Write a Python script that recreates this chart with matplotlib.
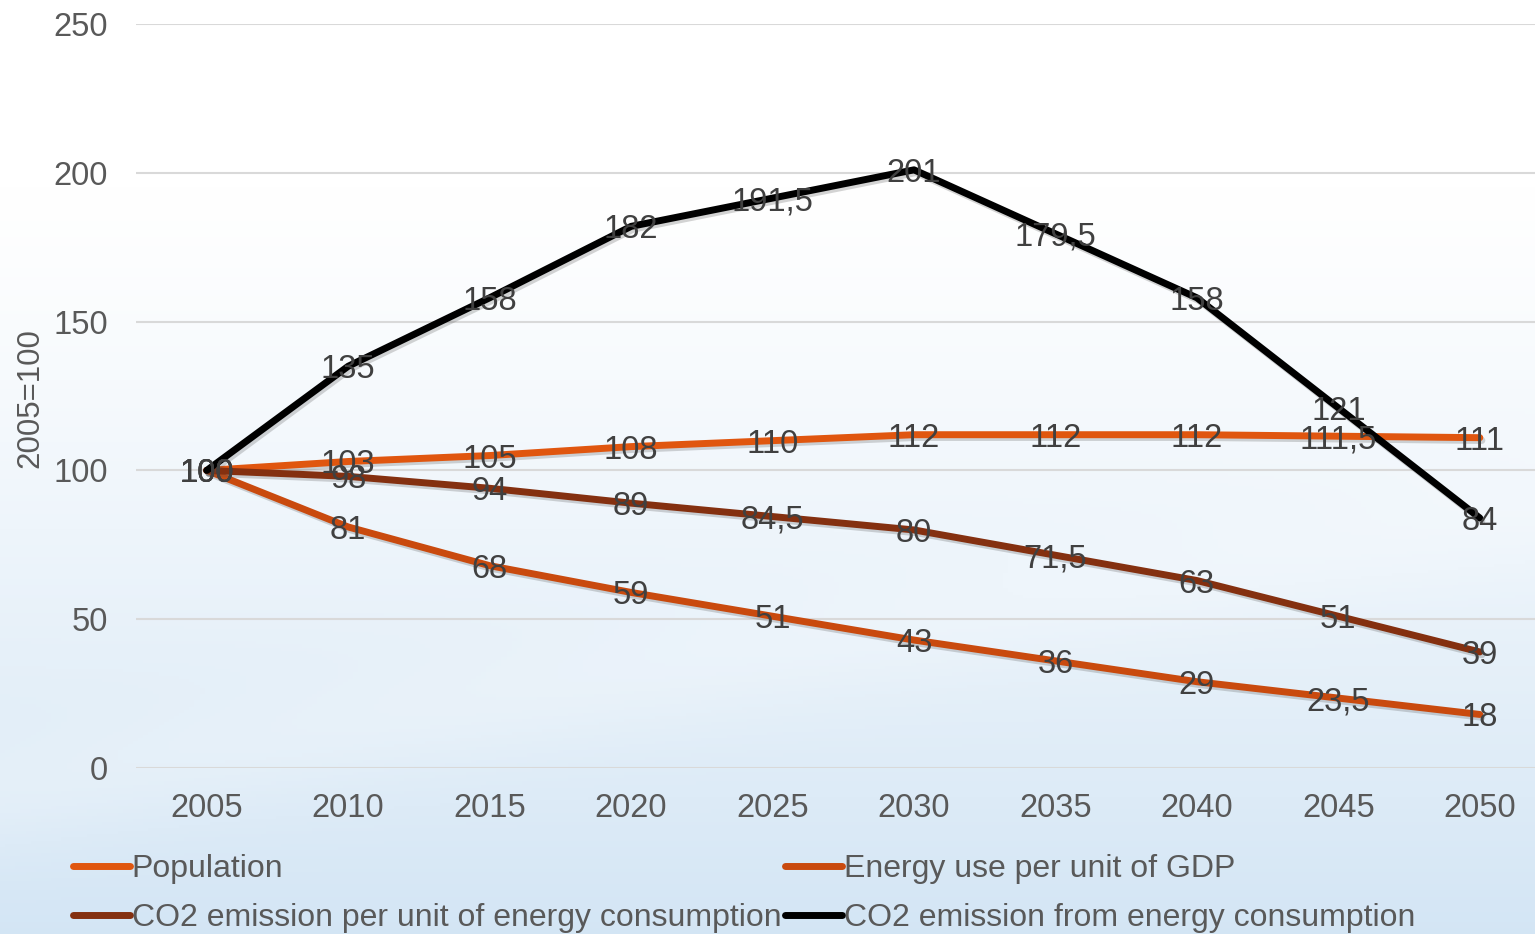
import numpy as np
import matplotlib.pyplot as plt
from matplotlib import patheffects as pe
from matplotlib.lines import Line2D

plt.rcParams["font.family"] = ["Liberation Sans", "DejaVu Sans"]

years = ["2005", "2010", "2015", "2020", "2025", "2030", "2035", "2040", "2045", "2050"]
population = [100, 103, 105, 108, 110, 112, 112, 112, 111.5, 111]
energy_per_gdp = [100, 81, 68, 59, 51, 43, 36, 29, 23.5, 18]
co2_per_energy = [100, 98, 94, 89, 84.5, 80, 71.5, 63, 51, 39]
co2_total = [100, 135, 158, 182, 191.5, 201, 179.5, 158, 121, 84]

series = [
    ("Population", population, "#e0560f"),
    ("Energy use per unit of GDP", energy_per_gdp, "#c94a0e"),
    ("CO2 emission per unit of energy consumption", co2_per_energy, "#843010"),
    ("CO2 emission from energy consumption", co2_total, "#000000"),
]

fig = plt.figure(figsize=(15.35, 9.34), dpi=100)

# soft background: white at the top fading to pale blue
bg = fig.add_axes([0, 0, 1, 1], zorder=-10)
h = np.linspace(0, 1, 300)[:, None]
w = np.linspace(0, 1, 300)[None, :]
t = np.clip((h - 0.2) / 0.8, 0, 1) ** 1.2
t = t * (1 - 0.2 * np.exp(-((h - 0.85 + 0.3 * w) ** 2) / 0.004))
top = np.array([1.0, 1.0, 1.0])
bottom = np.array([0.83, 0.90, 0.96])
img = top[None, None, :] * (1 - t[..., None]) + bottom[None, None, :] * t[..., None]
bg.imshow(img, aspect="auto", extent=[0, 1, 0, 1])
bg.axis("off")

ax = fig.add_axes([0.0886, 0.1777, 0.9114, 0.7966])
ax.patch.set_alpha(0)
x = np.arange(len(years))

shadow = [pe.SimpleLineShadow(offset=(1.5, -2.0), alpha=0.25, shadow_color="#555555"), pe.Normal()]
for name, vals, color in series:
    ax.plot(x, vals, color=color, lw=5, solid_capstyle="round", label=name,
            path_effects=shadow, zorder=3)
    for xi, v in zip(x, vals):
        txt = f"{v:g}".replace(".", ",")
        ax.text(xi, v, txt, ha="center", va="center_baseline", fontsize=23.5,
                color="#404040", zorder=4)

ax.set_xlim(-0.5, 9.39)
ax.set_ylim(0, 250)
ax.set_yticks([0, 50, 100, 150, 200, 250])
ax.set_xticks(x)
ax.set_xticklabels(years)
ax.yaxis.grid(True, color="#d9d9d9", lw=1.5)
ax.set_axisbelow(True)
for s in ax.spines.values():
    s.set_visible(False)
ax.axhline(0, color="#d9d9d9", lw=2, zorder=1)
ax.tick_params(length=0, labelsize=23.5, colors="#595959")
ax.tick_params(axis="y", pad=20)
ax.tick_params(axis="x", pad=18)
fig.text(0.0195, 0.574, "2005=100", rotation=90, ha="center", va="center",
         fontsize=22.5, color="#595959")

handles = [Line2D([], [], color=c, lw=5, solid_capstyle="round") for _, _, c in series]
labels = [n for n, _, _ in series]
order = [0, 2, 1, 3]
fig.legend([handles[i] for i in order], [labels[i] for i in order], ncol=2,
           loc="upper left", bbox_to_anchor=(0.039, 0.099), frameon=False,
           fontsize=23, labelcolor="#595959", handlelength=1.8, handletextpad=0.05,
           columnspacing=0.1, labelspacing=0.58, borderaxespad=0)

fig.savefig("out.png", dpi=100)
